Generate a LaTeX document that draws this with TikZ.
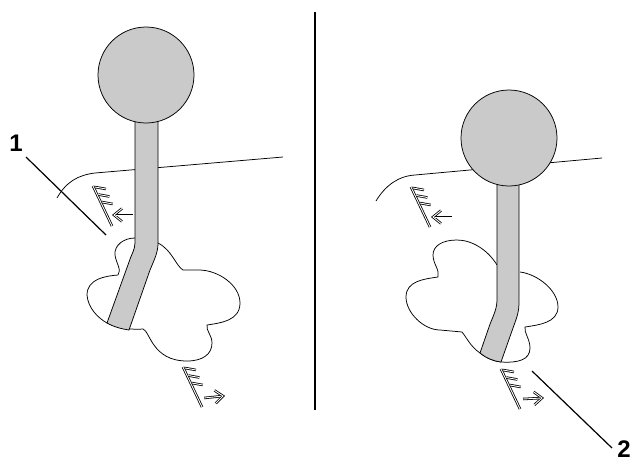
\documentclass[tikz,border=0pt]{standalone}
\usepackage{fontspec}
\setmainfont{Liberation Sans}
\usetikzlibrary{arrows.meta}
\definecolor{bulbgray}{HTML}{CACACA}

\begin{document}
\begin{tikzpicture}[
  x=1pt,y=-1pt,
  outline/.style={draw=black,line width=0.75pt},
  stem/.style={outline,fill=bulbgray},
  leader/.style={draw=black,line width=1.2pt},
  numlbl/.style={font=\fontsize{24}{24}\selectfont\bfseries,inner sep=0pt},
  hatchbar/.style={double=white,double distance=0.9pt,line width=0.8pt,line cap=butt},
  hatchteeth/.pic={
    \draw[hatchbar] (0,0) -- (19,40);
    \foreach \t in {0,1,2} \draw[hatchbar] ({2+3.4*\t},{1+7.5*\t}) -- ++(11,2);
  },
  chevron/.pic={
    \draw[hatchbar] (-8,-6.5) -- (0,0) -- (-8,6.5);
    \draw[hatchbar] (-2,0) -- (-19,0);
  },
]
\useasboundingbox (0,0) rectangle (632,459);

% --- divider ---
\coordinate (divtop) at (315,12);
\coordinate (divbot) at (315,410);
\draw[line width=1.2pt] (divtop) -- (divbot);

% --- left: ground line ---
\draw[outline] (57,198) .. controls (66,182) and (78,175) .. (95,173) -- (283,157);

% --- left: lobes ---
\draw[outline] (135,238) .. controls (124,238) and (114,245) .. (115,255)
  .. controls (116,263) and (122,270) .. (118,275)
  .. controls (105,276) and (87,279) .. (87,295)
  .. controls (88,308) and (98,318) .. (107,323)
  .. controls (118,328) and (132,330) .. (143,329)
  .. controls (150,331) and (152,361) .. (187,361)
  .. controls (203,361) and (212,354) .. (212,343)
  .. controls (212,335) and (206,331) .. (207,325)
  .. controls (220,323) and (240,321) .. (240,303)
  .. controls (240,285) and (218,270) .. (199,270)
  -- (183,270) .. controls (176,266) and (172,250) .. (158,243);

% --- left: stem + bulb ---
\draw[stem] (135,120) -- (135,243) .. controls (135,250) and (131,255) .. (129,262)
  -- (107,323) .. controls (114,327) and (122,329) .. (129,330) -- (150,270)
  .. controls (155,258) and (158,252) .. (158,243) -- (158,120) -- cycle;
\node[stem,circle,minimum size=96pt,inner sep=0pt] (bulbl) at (146,75) {};

% --- right: ground line ---
\draw[outline] (376,201) .. controls (385,186) and (398,176) .. (415,175) -- (602,158);

% --- right: lobes ---
\draw[outline] (497,265) .. controls (488,250) and (472,240) .. (457,240)
  .. controls (442,240) and (433,246) .. (433,255)
  .. controls (433,264) and (440,270) .. (438,277)
  .. controls (424,279) and (406,281) .. (406,297)
  .. controls (406,313) and (424,330) .. (440,330)
  -- (462,332) .. controls (467,338) and (470,346) .. (480,353)
  .. controls (486,358) and (493,361) .. (501,362)
  .. controls (518,363) and (530,360) .. (530,348)
  .. controls (530,339) and (524,333) .. (525,327)
  .. controls (538,325) and (558,323) .. (558,307)
  .. controls (558,290) and (537,274) .. (520,272);

% --- right: stem + bulb ---
\draw[stem] (497,170) -- (497,300) .. controls (497,310) and (492,318) .. (489,327)
  -- (480,353) .. controls (486,358) and (493,361) .. (501,362) -- (513,328)
  .. controls (517,317) and (519,312) .. (519,302) -- (519,170) -- cycle;
\node[stem,circle,minimum size=96pt,inner sep=0pt] (bulbr) at (509,138) {};

% --- hatch marks ---
\pic at (93,186) {hatchteeth};
\pic at (411,187) {hatchteeth};
\pic at (183,367) {hatchteeth};
\pic at (501,369) {hatchteeth};
\pic[rotate=180] at (114,215) {chevron};
\pic[rotate=180] at (433,217) {chevron};
\pic[rotate=6] at (223,396) {chevron};
\pic[rotate=3] at (542,398) {chevron};

% --- numbers + leaders ---
\node[numlbl] (num1) at (16,143.5) {1};
\node[numlbl] (num2) at (624,449) {2};
\coordinate (tip1) at (106,235);
\coordinate (tip2) at (532,371);
\draw[leader] (26,157) -- (tip1);
\draw[leader] (tip2) -- (612,448);
\end{tikzpicture}
\end{document}
